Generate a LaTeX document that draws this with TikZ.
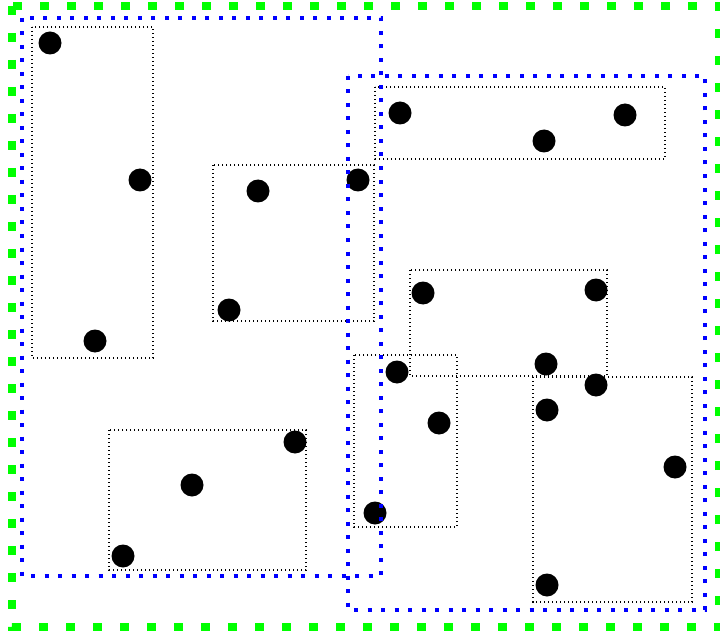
\documentclass[tikz,border=0pt]{standalone}
\begin{document}
\begin{tikzpicture}[x=1pt,y=-1pt,
  grp/.style={black,line width=1.4pt,dash pattern=on 1.4pt off 2.6pt},
  blu/.style={blue,line width=4pt,dash pattern=on 4pt off 9.5pt},
  grn/.style={green,line width=8.5pt,dash pattern=on 9pt off 18pt},
  pt/.style={circle,fill=black,inner sep=0pt,minimum size=23pt}]
\useasboundingbox (0,0) rectangle (720,639);
% dotted groups
\draw[grp] (32,27) rectangle (153,358);
\draw[grp] (213,165) rectangle (374,321);
\draw[grp] (375,87) rectangle (665,159);
\draw[grp] (410,270) rectangle (607,376);
\draw[grp] (354,355) rectangle (457,527);
\draw[grp] (533,377) rectangle (692,602);
\draw[grp] (109,430) rectangle (306,570);
% points
\node[pt] (p1) at (50,43) {};
\node[pt] (p2) at (140,180) {};
\node[pt] (p3) at (95,341) {};
\node[pt] (p4) at (258,191) {};
\node[pt] (p5) at (229,310) {};
\node[pt] (p6) at (358,180) {};
\node[pt] (p7) at (400,113) {};
\node[pt] (p8) at (544,141) {};
\node[pt] (p9) at (625,115) {};
\node[pt] (p10) at (423,293) {};
\node[pt] (p11) at (596,290) {};
\node[pt] (p12) at (546,364) {};
\node[pt] (p13) at (397,372) {};
\node[pt] (p14) at (596,385) {};
\node[pt] (p15) at (547,410) {};
\node[pt] (p16) at (439,423) {};
\node[pt] (p17) at (675,467) {};
\node[pt] (p18) at (375,513) {};
\node[pt] (p19) at (547,585) {};
\node[pt] (p20) at (295,442) {};
\node[pt] (p21) at (192,485) {};
\node[pt] (p22) at (123,556) {};
% clusters
\draw[blu] (22,18) rectangle (381,576);
\draw[blu] (348,76) rectangle (705,610);
% outer
\draw[grn] (12,6) rectangle (719,627);
\end{tikzpicture}
\end{document}
